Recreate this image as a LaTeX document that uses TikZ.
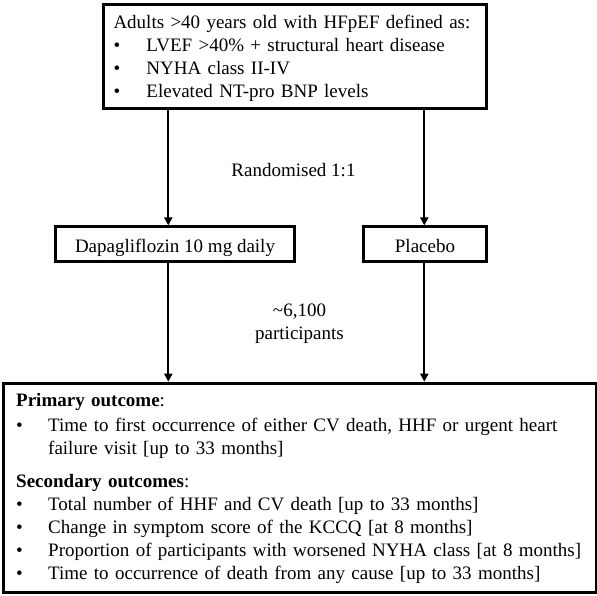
\documentclass[tikz,border=0pt]{standalone}
\usepackage{fontspec}
\setmainfont{Liberation Serif}
\usetikzlibrary{arrows.meta}
\newcommand\bulitem[2]{\mbox{\makebox[#1][l]{\textbullet}#2}}
\begin{document}
\begin{tikzpicture}[x=1pt,y=-1pt,
  every node/.style={font=\fontsize{19}{23}\selectfont},
  boxed/.style={draw, line width=3pt, fill=white},
  arr/.style={line width=2.2pt, -{Triangle[length=8pt,width=8pt]}},
]
\useasboundingbox (0,0) rectangle (597,596);
% boxes
\node[boxed, anchor=north west, text width=363.6pt, align=left,
      inner xsep=9.7pt, inner ysep=7pt] (top) at (102.3,3.3)
  {\mbox{\rule{0pt}{17pt}Adults >40 years old with HFpEF defined as:}\\
   \bulitem{33pt}{LVEF >40\% + structural heart disease}\\
   \bulitem{33pt}{NYHA class II-IV}\\
   \bulitem{33pt}{Elevated NT-pro BNP levels}};
\node[boxed, minimum width=239.4pt, minimum height=34.7pt, inner sep=0pt,
      text height=17pt, text depth=1.6pt] (dapa) at (175,244.3)
  {Dapagliflozin 10 mg daily};
\node[boxed, minimum width=122.6pt, minimum height=34.7pt, inner sep=0pt,
      text height=17pt, text depth=1.6pt] (plac) at (425,244.3)
  {Placebo};
\node[boxed, anchor=north west, text width=567.6pt, align=left,
      inner xsep=13pt, inner ysep=9.5pt] (out) at (1.7,381.7)
  {\rule{0pt}{13.5pt}\textbf{Primary outcome}:\\[2pt]
   \bulitem{32pt}{Time to first occurrence of either CV death, HHF or urgent heart}\\
   \hspace*{32pt}failure visit [up to 33 months]\\[10pt]
   \textbf{Secondary outcomes}:\\
   \bulitem{32pt}{Total number of HHF and CV death [up to 33 months]}\\
   \bulitem{32pt}{Change in symptom score of the KCCQ [at 8 months]}\\
   \bulitem{32pt}{Proportion of participants with worsened NYHA class [at 8 months]}\\
   \bulitem{32pt}{Time to occurrence of death from any cause [up to 33 months]}};
% labels
\node[anchor=base, inner sep=0pt] (rand) at (293.5,177) {Randomised 1:1};
\node[align=center, anchor=north, inner sep=0pt] (npart) at (299.5,303.8)
  {\textasciitilde6,100\\participants};
% connectors
\coordinate (lx) at (168.3,0);
\coordinate (rx) at (424.3,0);
\draw[arr] (top.south -| lx) -- (dapa.north -| lx);
\draw[arr] (dapa.south -| lx) -- (out.north -| lx);
\draw[arr] (top.south -| rx) -- (plac.north -| rx);
\draw[arr] (plac.south -| rx) -- (out.north -| rx);
\end{tikzpicture}
\end{document}
